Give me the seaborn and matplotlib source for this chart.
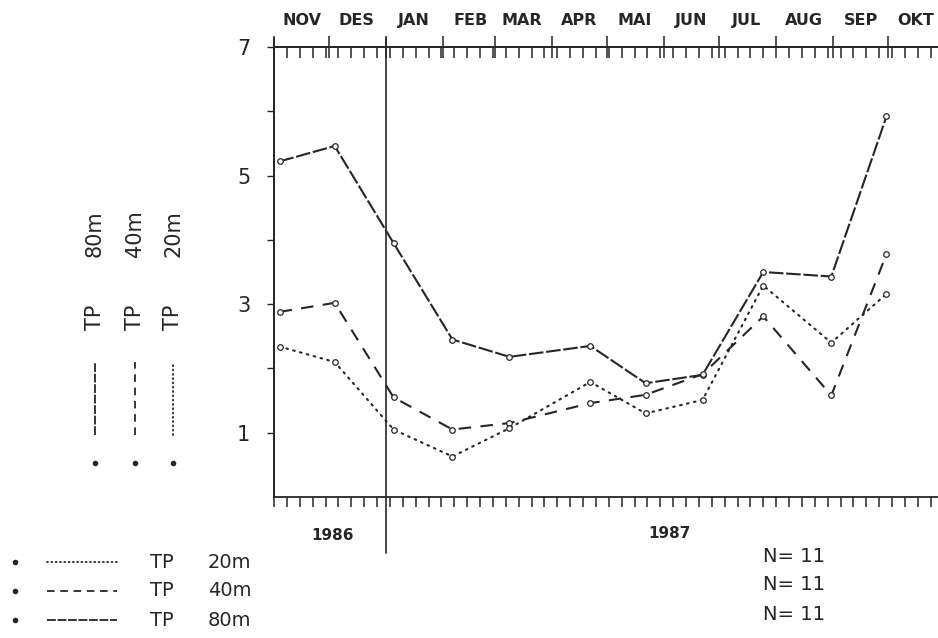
import numpy as np
import pandas as pd
import matplotlib
matplotlib.use("Agg")
import matplotlib.pyplot as plt
import matplotlib.dates as mdates
import matplotlib.transforms as mtransforms
from matplotlib.lines import Line2D
from matplotlib.ticker import FixedLocator, FixedFormatter, NullFormatter
import seaborn as sns

# ---------------- data ----------------
sample_dates = ["1986-11-04", "1986-12-04", "1987-01-05", "1987-02-06", "1987-03-09",
                "1987-04-22", "1987-05-22", "1987-06-22", "1987-07-25", "1987-08-31",
                "1987-09-30"]
tp_80m = [5.22, 5.46, 3.95, 2.45, 2.18, 2.35, 1.77, 1.90, 3.50, 3.43, 5.92]
tp_40m = [2.88, 3.02, 1.55, 1.05, 1.15, 1.46, 1.59, 1.91, 2.81, 1.58, 3.78]
tp_20m = [2.34, 2.10, 1.05, 0.63, 1.07, 1.79, 1.30, 1.51, 3.29, 2.40, 3.16]
series_names = ["TP 80m", "TP 40m", "TP 20m"]
month_labels = ["NOV", "DES", "JAN", "FEB", "MAR", "APR", "MAI", "JUN", "JUL", "AUG", "SEP", "OKT"]
y_ticks = [1, 2, 3, 4, 5, 6, 7]
y_tick_labels = ["1", "", "3", "", "5", "", "7"]
year_labels = ["1986", "1987"]
n_counts = [11, 11, 11]

# ---------------- style ----------------
sns.set_style("white")
plt.rcParams["font.family"] = ["DejaVu Sans"]
INK = "#262626"

W, H = 938, 638
fig = plt.figure(figsize=(W / 100, H / 100), dpi=100)


def fx(x):
    return x / W


def fy(y):
    return 1 - y / H


ax = fig.add_axes([fx(274), fy(497), fx(938) - fx(274), fy(47) - fy(497)])

df = pd.DataFrame({
    "date": pd.to_datetime(sample_dates * 3),
    "value": tp_80m + tp_40m + tp_20m,
    "series": np.repeat(series_names, len(sample_dates)),
})

dash_map = {"TP 80m": (7, 1.3), "TP 40m": (6, 4.5), "TP 20m": (0.8, 2.6)}
marker_map = {s: "o" for s in series_names}

sns.lineplot(data=df, x="date", y="value", style="series", style_order=series_names,
             dashes=dash_map, markers=marker_map, color=INK, linewidth=1.5,
             markersize=4, markerfacecolor="white", markeredgecolor=INK,
             markeredgewidth=0.9, legend=False, ax=ax, sort=False)
for line in ax.get_lines():
    yd = np.asarray(line.get_ydata(), dtype=float)
    if len(yd) == len(tp_20m) and np.allclose(yd, tp_20m):
        line.set_dash_capstyle("round")

# ---------------- axes ----------------
start = pd.Timestamp("1986-11-01")
end = start + pd.Timedelta(days=361)
ax.set_xlim(start, end)
ax.set_ylim(0, 7)
ax.set_xlabel("")
ax.set_ylabel("")

weeks = mdates.date2num(pd.date_range(start, end, freq="7D"))
month_starts = mdates.date2num(pd.date_range(start, end, freq="MS"))
mid_months = mdates.date2num(pd.date_range(start, end, freq="MS") + pd.Timedelta(days=15))

ax.xaxis.set_major_locator(FixedLocator(weeks))
ax.xaxis.set_major_formatter(NullFormatter())
ax.tick_params(axis="x", which="major", direction="out", length=7, width=1.1,
               color=INK, bottom=True, top=False, labelbottom=False)

ax.yaxis.set_major_locator(FixedLocator(y_ticks))
ax.yaxis.set_major_formatter(FixedFormatter(y_tick_labels))
ax.tick_params(axis="y", direction="out", length=5, width=1.0, color=INK,
               pad=12, labelsize=15, labelcolor=INK, left=True)

for side in ["left", "top", "bottom"]:
    ax.spines[side].set_visible(True)
    ax.spines[side].set_color(INK)
    ax.spines[side].set_linewidth(1.3)
ax.spines["right"].set_visible(False)

# top tick axis
top = ax.secondary_xaxis("top")
top.xaxis.set_major_locator(FixedLocator(month_starts))
top.xaxis.set_minor_locator(FixedLocator(weeks))
top.xaxis.set_major_formatter(NullFormatter())
top.tick_params(which="major", direction="inout", length=16, width=1.1, color=INK)
top.tick_params(which="minor", direction="in", length=8, width=1.1, color=INK)
top.spines["top"].set_color(INK)
top.spines["top"].set_linewidth(1.3)

# month labels
lab = ax.secondary_xaxis("top")
lab.xaxis.set_major_locator(FixedLocator(mid_months))
lab.xaxis.set_major_formatter(FixedFormatter(month_labels))
lab.tick_params(which="major", length=0, pad=14, labelsize=11.5, labelcolor=INK)
for t in lab.get_xticklabels():
    t.set_fontweight("bold")
for s in lab.spines.values():
    s.set_visible(False)

# year divider and extended left axis
ax.axvline(pd.Timestamp("1987-01-01"), ymin=-0.125, ymax=1.02, clip_on=False,
           color=INK, lw=1.2)
ax.axvline(start, ymin=0, ymax=1.02, clip_on=False, color=INK, lw=1.3)

trans = mtransforms.blended_transform_factory(ax.transData, ax.transAxes)
ax.text(pd.Timestamp("1986-12-03"), -0.085, year_labels[0], transform=trans,
        ha="center", va="center", fontsize=11, fontweight="bold", color=INK)
ax.text(pd.Timestamp("1987-06-04"), -0.08, year_labels[1], transform=trans,
        ha="center", va="center", fontsize=11, fontweight="bold", color=INK)

# ---------------- rotated legend (left) ----------------
legend_cols = [95, 135, 173]
for xpix, name in zip(legend_cols, series_names):
    d = dash_map[name]
    cap = "round" if name == "TP 20m" else "butt"
    fig.add_artist(Line2D([fx(xpix)], [fy(463)], transform=fig.transFigure,
                          marker="o", ms=3, color=INK, lw=0))
    fig.add_artist(Line2D([fx(xpix), fx(xpix)], [fy(435), fy(362)],
                          transform=fig.transFigure, color=INK, lw=1.3,
                          dashes=(d[0] * 0.7, d[1] * 0.7), dash_capstyle=cap))
    tp, depth = name.split(" ")
    fig.text(fx(xpix), fy(317), tp, rotation=90, ha="center", va="center",
             fontsize=15, color=INK)
    fig.text(fx(xpix), fy(234), depth, rotation=90, ha="center", va="center",
             fontsize=15, color=INK)

# ---------------- bottom legend ----------------
legend_rows = [562, 591, 620]
for ypix, name in zip(legend_rows, series_names[::-1]):
    d = dash_map[name]
    cap = "round" if name == "TP 20m" else "butt"
    fig.add_artist(Line2D([fx(15)], [fy(ypix)], transform=fig.transFigure,
                          marker="o", ms=3, color=INK, lw=0))
    fig.add_artist(Line2D([fx(47), fx(117)], [fy(ypix), fy(ypix)],
                          transform=fig.transFigure, color=INK, lw=1.3,
                          dashes=(d[0] * 0.7, d[1] * 0.7), dash_capstyle=cap))
    tp, depth = name.split(" ")
    fig.text(fx(150), fy(ypix), tp, ha="left", va="center", fontsize=14, color=INK)
    fig.text(fx(208), fy(ypix), depth, ha="left", va="center", fontsize=14, color=INK)

n_rows = [556, 585, 614]
for ypix, n in zip(n_rows, n_counts):
    fig.text(fx(763), fy(ypix), f"N= {n}", ha="left", va="center", fontsize=14, color=INK)

fig.savefig("out.png", dpi=100)
